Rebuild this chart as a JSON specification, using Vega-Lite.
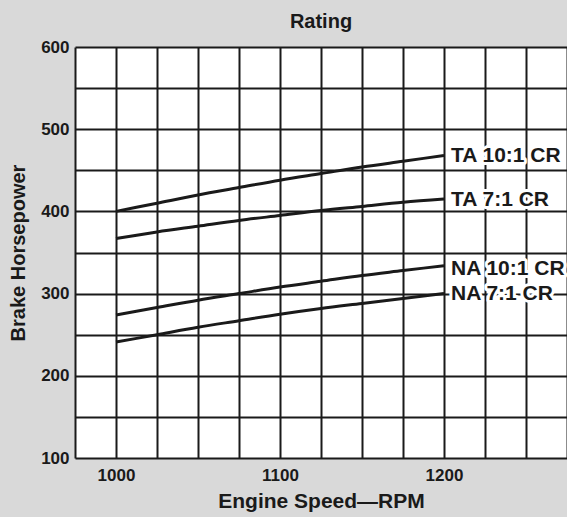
{
  "$schema": "https://vega.github.io/schema/vega-lite/v6.json",
  "autosize": {"type": "none"},
  "padding": {"left": 75, "top": 47, "right": 0, "bottom": 59},
  "width": 492,
  "height": 411,
  "background": "#d9d9d9",
  "config": {"view": {"fill": "white", "stroke": null}, "font": "Liberation Sans"},
  "title": {"text": "Rating", "fontSize": 20, "font": "Liberation Sans", "fontWeight": "bold", "offset": 6, "color": "#1a1a1a", "anchor": "middle"},
  "datasets": {
    "curves": [
      {"series": "TA 10:1 CR", "rpm": 1000, "hp": 400},
      {"series": "TA 10:1 CR", "rpm": 1025, "hp": 410},
      {"series": "TA 10:1 CR", "rpm": 1050, "hp": 420},
      {"series": "TA 10:1 CR", "rpm": 1075, "hp": 429},
      {"series": "TA 10:1 CR", "rpm": 1100, "hp": 438},
      {"series": "TA 10:1 CR", "rpm": 1125, "hp": 446},
      {"series": "TA 10:1 CR", "rpm": 1150, "hp": 454},
      {"series": "TA 10:1 CR", "rpm": 1175, "hp": 461},
      {"series": "TA 10:1 CR", "rpm": 1200, "hp": 468},
      {"series": "TA 7:1 CR", "rpm": 1000, "hp": 367},
      {"series": "TA 7:1 CR", "rpm": 1025, "hp": 375},
      {"series": "TA 7:1 CR", "rpm": 1050, "hp": 382},
      {"series": "TA 7:1 CR", "rpm": 1075, "hp": 389},
      {"series": "TA 7:1 CR", "rpm": 1100, "hp": 395},
      {"series": "TA 7:1 CR", "rpm": 1125, "hp": 401},
      {"series": "TA 7:1 CR", "rpm": 1150, "hp": 406},
      {"series": "TA 7:1 CR", "rpm": 1175, "hp": 411},
      {"series": "TA 7:1 CR", "rpm": 1200, "hp": 415},
      {"series": "NA 10:1 CR", "rpm": 1000, "hp": 274},
      {"series": "NA 10:1 CR", "rpm": 1025, "hp": 283},
      {"series": "NA 10:1 CR", "rpm": 1050, "hp": 292},
      {"series": "NA 10:1 CR", "rpm": 1075, "hp": 300},
      {"series": "NA 10:1 CR", "rpm": 1100, "hp": 308},
      {"series": "NA 10:1 CR", "rpm": 1125, "hp": 315},
      {"series": "NA 10:1 CR", "rpm": 1150, "hp": 322},
      {"series": "NA 10:1 CR", "rpm": 1175, "hp": 328},
      {"series": "NA 10:1 CR", "rpm": 1200, "hp": 334},
      {"series": "NA 7:1 CR", "rpm": 1000, "hp": 241},
      {"series": "NA 7:1 CR", "rpm": 1025, "hp": 250},
      {"series": "NA 7:1 CR", "rpm": 1050, "hp": 259},
      {"series": "NA 7:1 CR", "rpm": 1075, "hp": 267},
      {"series": "NA 7:1 CR", "rpm": 1100, "hp": 275},
      {"series": "NA 7:1 CR", "rpm": 1125, "hp": 282},
      {"series": "NA 7:1 CR", "rpm": 1150, "hp": 288},
      {"series": "NA 7:1 CR", "rpm": 1175, "hp": 294},
      {"series": "NA 7:1 CR", "rpm": 1200, "hp": 300}
    ],
    "labels": [
      {"label": "TA 10:1 CR", "rpm": 1200, "hp": 467},
      {"label": "TA 7:1 CR", "rpm": 1200, "hp": 414},
      {"label": "NA 10:1 CR", "rpm": 1200, "hp": 330},
      {"label": "NA 7:1 CR", "rpm": 1200, "hp": 299}
    ]
  },
  "encoding": {
    "x": {
      "field": "rpm", "type": "quantitative",
      "scale": {"domain": [975, 1275], "nice": false, "zero": false},
      "axis": {
        "values": [975, 1000, 1025, 1050, 1075, 1100, 1125, 1150, 1175, 1200, 1225, 1250, 1275],
        "format": "d",
        "labelExpr": "datum.value % 100 === 0 ? datum.label : ''",
        "grid": true, "gridColor": "#1a1a1a", "gridWidth": 2, "gridOpacity": 1,
        "domain": false, "ticks": false,
        "labelFont": "Liberation Sans", "labelFontSize": 17, "labelFontWeight": "bold", "labelColor": "#1a1a1a",
        "labelPadding": 9, "labelFlush": false, "labelOverlap": false,
        "title": "Engine Speed—RPM", "titleFont": "Liberation Sans", "titleFontSize": 21, "titleFontWeight": "bold", "titleColor": "#1a1a1a",
        "titlePadding": 7
      }
    },
    "y": {
      "field": "hp", "type": "quantitative",
      "scale": {"domain": [100, 600], "nice": false, "zero": false},
      "axis": {
        "values": [100, 150, 200, 250, 300, 350, 400, 450, 500, 550, 600],
        "format": "d",
        "labelExpr": "datum.value % 100 === 0 ? datum.label : ''",
        "grid": true, "gridColor": "#1a1a1a", "gridWidth": 2, "gridOpacity": 1,
        "domain": false, "ticks": false,
        "labelFont": "Liberation Sans", "labelFontSize": 17, "labelFontWeight": "bold", "labelColor": "#1a1a1a",
        "labelPadding": 6, "labelFlush": false, "labelOverlap": false,
        "title": "Brake Horsepower", "titleFont": "Liberation Sans", "titleFontSize": 20, "titleFontWeight": "bold", "titleColor": "#1a1a1a",
        "titlePadding": 12
      }
    }
  },
  "layer": [
    {
      "data": {"name": "curves"},
      "mark": {"type": "line", "color": "#1a1a1a", "strokeWidth": 3, "interpolate": "monotone"},
      "encoding": {"detail": {"field": "series"}}
    },
    {
      "data": {"name": "labels"},
      "mark": {"type": "text", "align": "left", "baseline": "middle", "dx": 7, "font": "Liberation Sans", "fontSize": 21, "fontWeight": "bold", "fill": "white", "stroke": "white", "strokeWidth": 6, "strokeJoin": "round"},
      "encoding": {"text": {"field": "label"}}
    },
    {
      "data": {"name": "labels"},
      "mark": {"type": "text", "align": "left", "baseline": "middle", "dx": 7, "font": "Liberation Sans", "fontSize": 21, "fontWeight": "bold", "color": "#1a1a1a"},
      "encoding": {"text": {"field": "label"}}
    }
  ]
}
